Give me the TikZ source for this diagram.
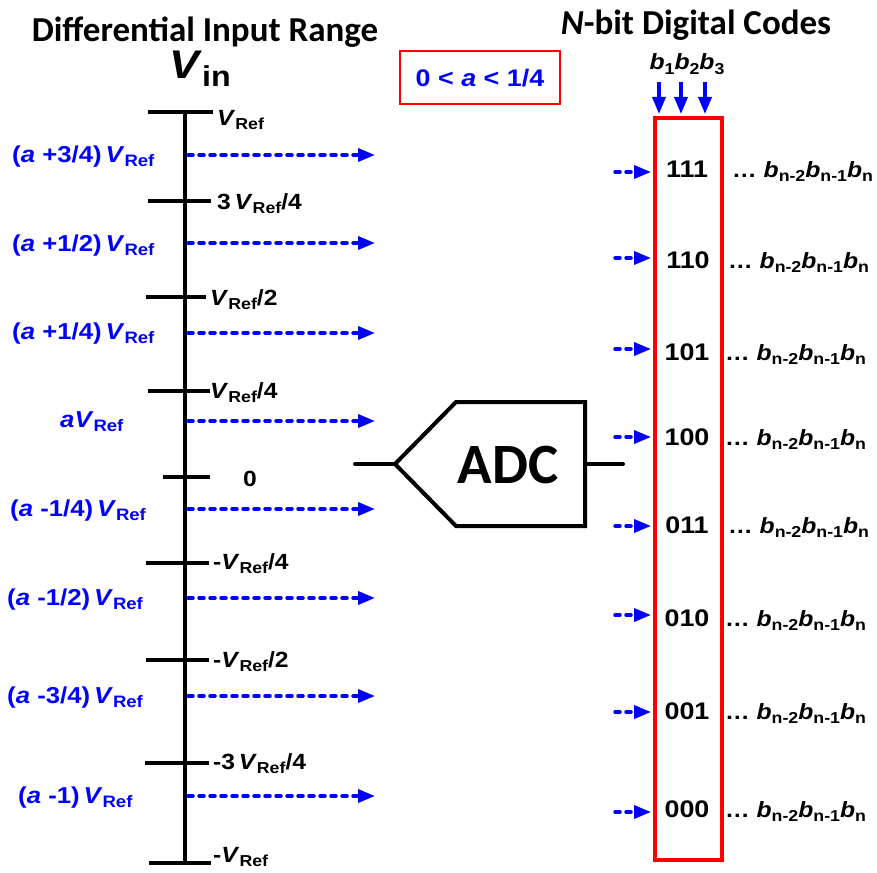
\documentclass[tikz,border=0pt]{standalone}
\usepackage{fontspec}
\setmainfont{Liberation Sans}[FakeStretch=1.12]
\newfontfamily\calfont{Carlito}
\usepackage{graphicx}
\usepackage{tikz}
\usetikzlibrary{arrows.meta, positioning, calc}

\newcommand{\lowsub}[1]{\raisebox{-0.2em}{\scalebox{0.72}{#1}}}
\newcommand{\VRef}{\textit{V}\lowsub{Ref}}
\newcommand{\bitstail}{\dots\ \textit{b}\lowsub{n-2}\textit{b}\lowsub{n-1}\textit{b}\lowsub{n}}

\tikzset{
    headline/.style={anchor=base, inner sep=0pt, font=\calfont\bfseries\fontsize{35}{40}\selectfont},
    axis/.style={line width=4pt},
    level/.style={anchor=base west, inner sep=0pt, font=\bfseries\fontsize{22}{26}\selectfont},
    inval/.style={anchor=base west, inner sep=0pt, text=blue, font=\bfseries\fontsize{23}{26}\selectfont},
    levelarrow/.style={blue, line width=3.5pt, line cap=round, dash pattern=on 5pt off 6pt,
        -{Triangle[length=17pt, width=13pt]}},
    bitarrow/.style={blue, line width=3.5pt, -{Triangle[length=17pt, width=13pt]}, shorten >=2pt},
    code/.style={anchor=base, inner sep=0pt, font=\bfseries\fontsize{24}{28}\selectfont},
    tail/.style={anchor=base west, inner sep=0pt, font=\bfseries\fontsize{22}{26}\selectfont},
    adcline/.style={line width=4pt, line cap=round},
}

\begin{document}
\begin{tikzpicture}[x=1pt, y=-1pt]
    \useasboundingbox (0,0) rectangle (877,872);

    % Titles
    \node[headline] (rangetitle) at (205,42) {Differential Input Range};
    \node[anchor=base west, inner sep=0pt, font=\bfseries\fontsize{40}{44}\selectfont] (vin) at (169,79) {\textit{V}\lowsub{in}};
    \node[headline] (codetitle) at (696,35) {\textit{N}-bit Digital Codes};
    \node[draw=red, line width=2pt, minimum width=160pt, minimum height=53pt, text=blue,
        font=\bfseries\fontsize{24}{28}\selectfont] (arange) at (480,78) {0 < \textit{a} < 1/4};

    % Input range axis
    \draw[axis] (185,113) -- (185,862);
    \draw[axis] (148,112) -- (213,112);
    \draw[axis] (148,201) -- (211,201);
    \draw[axis] (146,297) -- (206,297);
    \draw[axis] (148,391) -- (210,391);
    \draw[axis] (163,477) -- (210,477);
    \draw[axis] (146,563) -- (209,563);
    \draw[axis] (146,660) -- (209,660);
    \draw[axis] (145,763) -- (209,763);
    \draw[axis] (149,863) -- (211,863);

    \node[level] (p8) at (217,125) {\VRef};
    \node[level] (p6) at (217,209) {3\,\VRef/4};
    \node[level] (p4) at (210,305) {\VRef/2};
    \node[level] (p2) at (210,398) {\VRef/4};
    \node[level] (zero) at (243,486) {0};
    \node[level] (m2) at (213,569) {-\VRef/4};
    \node[level] (m4) at (213,667) {-\VRef/2};
    \node[level] (m6) at (213,769) {-3\,\VRef/4};
    \node[level] (m8) at (213,862) {-\VRef};

    % Sampled inputs
    \node[inval] (s7) at (12,162) {(\textit{a} +3/4)\,\VRef};
    \node[inval] (s6) at (12,251) {(\textit{a} +1/2)\,\VRef};
    \node[inval] (s5) at (12,339) {(\textit{a} +1/4)\,\VRef};
    \node[inval] (s4) at (60,427) {\textit{a}\VRef};
    \node[inval] (s3) at (10,516) {(\textit{a} -1/4)\,\VRef};
    \node[inval] (s2) at (7,605) {(\textit{a} -1/2)\,\VRef};
    \node[inval] (s1) at (7,703) {(\textit{a} -3/4)\,\VRef};
    \node[inval] (s0) at (18,803) {(\textit{a} -1)\,\VRef};

    \coordinate (v7) at (188,155); \coordinate (e7) at (375,155);
    \coordinate (v6) at (188,243); \coordinate (e6) at (375,243);
    \coordinate (v5) at (188,333); \coordinate (e5) at (375,333);
    \coordinate (v4) at (188,421); \coordinate (e4) at (375,421);
    \coordinate (v3) at (188,509); \coordinate (e3) at (375,509);
    \coordinate (v2) at (188,598); \coordinate (e2) at (375,598);
    \coordinate (v1) at (188,696); \coordinate (e1) at (375,696);
    \coordinate (v0) at (188,796); \coordinate (e0) at (375,796);
    \draw[levelarrow] (v7) -- (e7);
    \draw[levelarrow] (v6) -- (e6);
    \draw[levelarrow] (v5) -- (e5);
    \draw[levelarrow] (v4) -- (e4);
    \draw[levelarrow] (v3) -- (e3);
    \draw[levelarrow] (v2) -- (e2);
    \draw[levelarrow] (v1) -- (e1);
    \draw[levelarrow] (v0) -- (e0);

    % ADC
    \coordinate (adctip) at (395,464);
    \coordinate (adcin) at (355,464);
    \coordinate (adcback) at (585,464);
    \coordinate (adcout) at (623,464);
    \draw[adcline] (adctip) -- (456,402) -- (585,402) -- (585,526) -- (456,526) -- cycle;
    \node[inner sep=0pt, font=\calfont\bfseries\fontsize{57}{60}\selectfont] (adc) at (508,465) {ADC};
    \draw[adcline] (adcin) -- (adctip);
    \draw[adcline] (adcback) -- (adcout);

    % Digital codes
    \node[draw=red, line width=4pt, minimum width=67pt, minimum height=742pt, inner sep=0pt] (codebox) at (688.5,489) {};
    \node[anchor=base, inner sep=0pt, font=\bfseries\fontsize{22}{26}\selectfont] (bitnames) at (687,70)
        {\textit{b}\lowsub{1}\textit{b}\lowsub{2}\textit{b}\lowsub{3}};
    \coordinate (b1) at (659,82);
    \coordinate (b2) at (681,82);
    \coordinate (b3) at (705,82);
    \draw[bitarrow] (b1) -- (b1 |- codebox.north);
    \draw[bitarrow] (b2) -- (b2 |- codebox.north);
    \draw[bitarrow] (b3) -- (b3 |- codebox.north);

    \node[code] (c7) at (687,177) {111};
    \node[code] (c6) at (688,268) {110};
    \node[code] (c5) at (687,360) {101};
    \node[code] (c4) at (687,445) {100};
    \node[code] (c3) at (687,533) {011};
    \node[code] (c2) at (687,626) {010};
    \node[code] (c1) at (687,719) {001};
    \node[code] (c0) at (687,817) {000};

    \node[tail] (t7) at (732,177) {\bitstail};
    \node[tail] (t6) at (728,268) {\bitstail};
    \node[tail] (t5) at (725,360) {\bitstail};
    \node[tail] (t4) at (725,445) {\bitstail};
    \node[tail] (t3) at (728,533) {\bitstail};
    \node[tail] (t2) at (725,626) {\bitstail};
    \node[tail] (t1) at (725,719) {\bitstail};
    \node[tail] (t0) at (725,817) {\bitstail};

    \coordinate (i7) at (615,172);
    \coordinate (i6) at (615,258);
    \coordinate (i5) at (615,349);
    \coordinate (i4) at (615,437);
    \coordinate (i3) at (615,526);
    \coordinate (i2) at (615,615);
    \coordinate (i1) at (615,712);
    \coordinate (i0) at (615,812);
    \draw[levelarrow, shorten >=2pt] (i7) -- (i7 -| codebox.west);
    \draw[levelarrow, shorten >=2pt] (i6) -- (i6 -| codebox.west);
    \draw[levelarrow, shorten >=2pt] (i5) -- (i5 -| codebox.west);
    \draw[levelarrow, shorten >=2pt] (i4) -- (i4 -| codebox.west);
    \draw[levelarrow, shorten >=2pt] (i3) -- (i3 -| codebox.west);
    \draw[levelarrow, shorten >=2pt] (i2) -- (i2 -| codebox.west);
    \draw[levelarrow, shorten >=2pt] (i1) -- (i1 -| codebox.west);
    \draw[levelarrow, shorten >=2pt] (i0) -- (i0 -| codebox.west);
\end{tikzpicture}
\end{document}
